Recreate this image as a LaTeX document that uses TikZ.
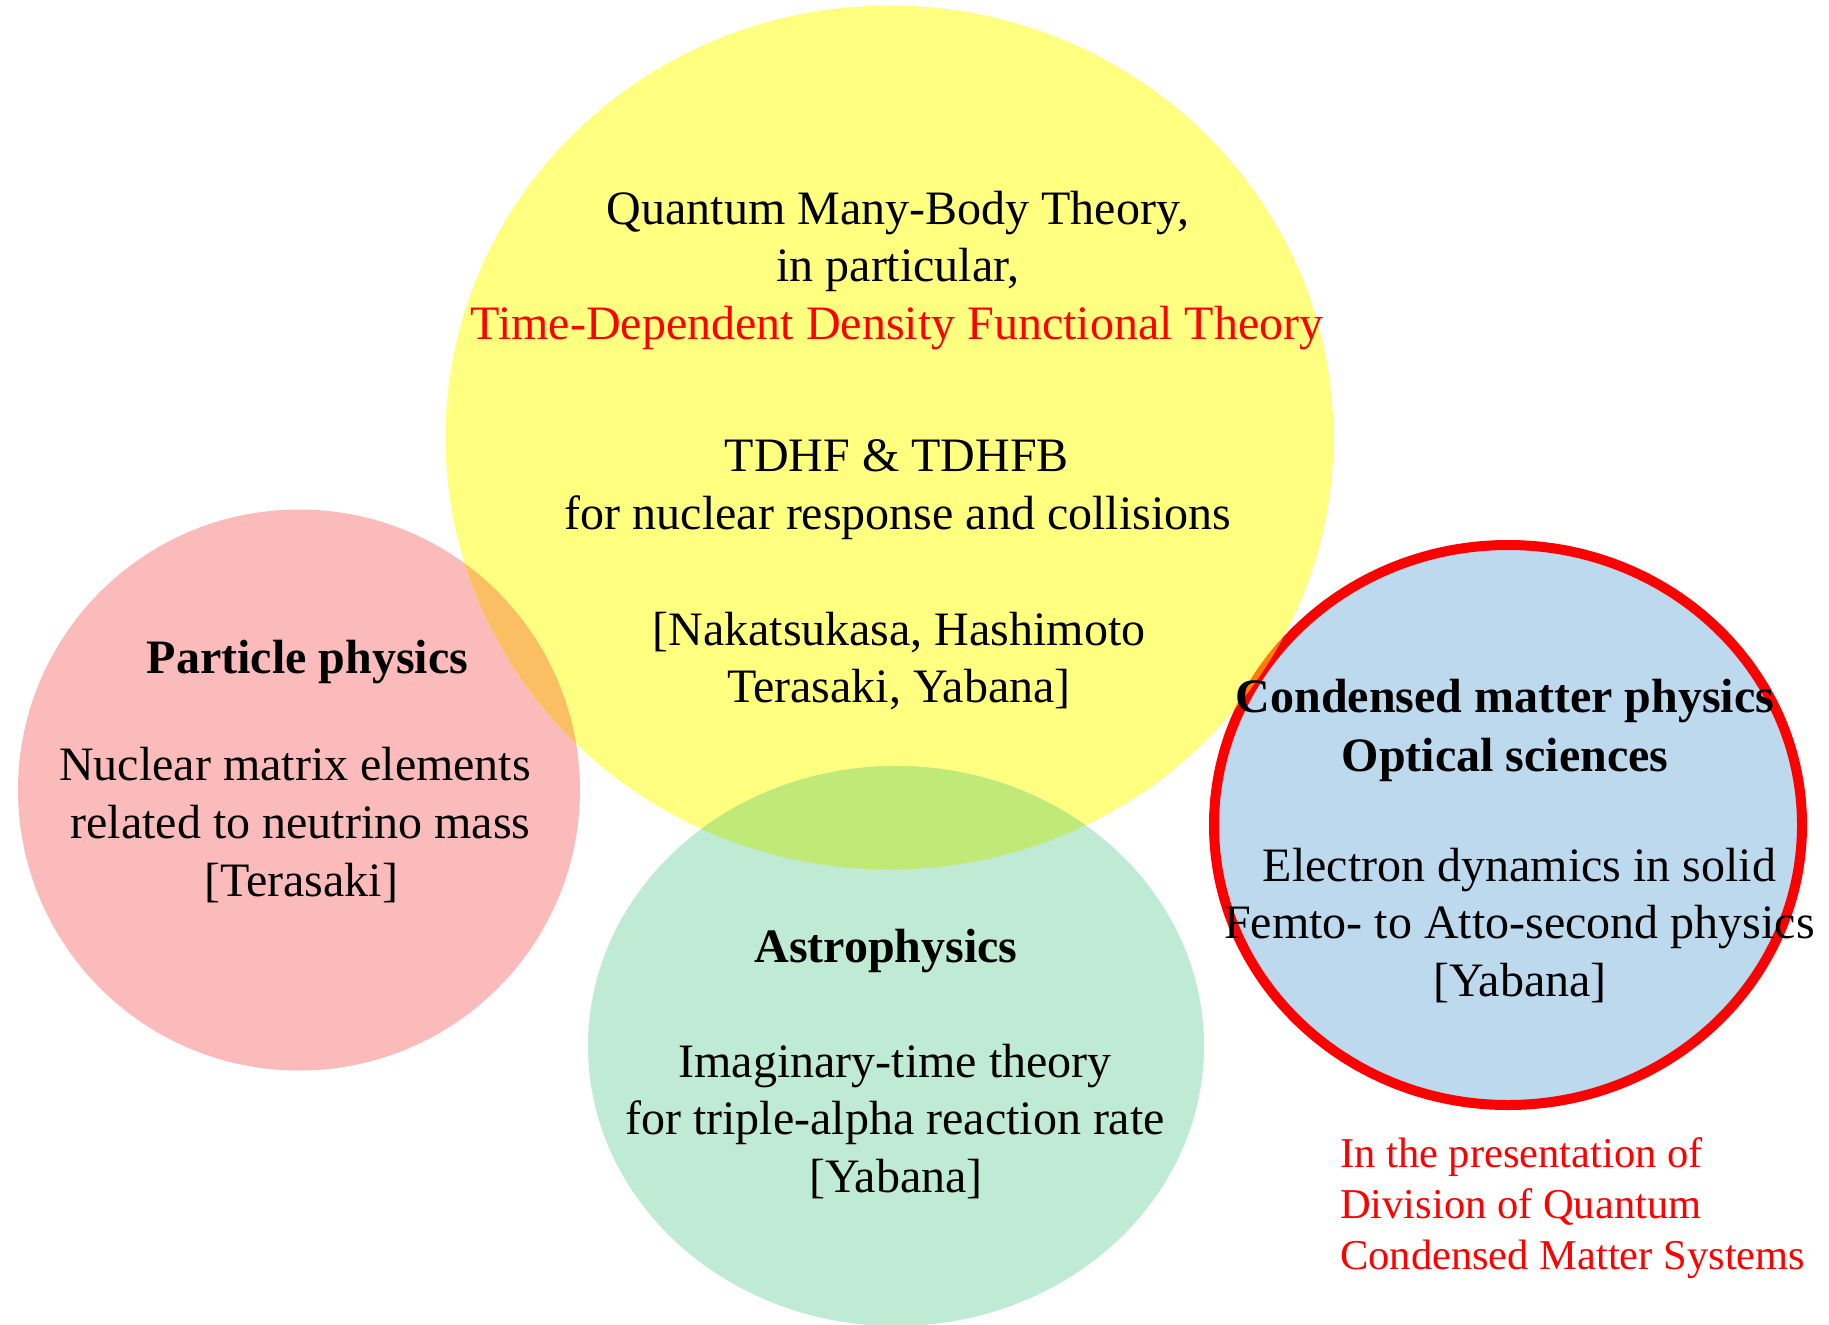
\documentclass[tikz,border=0pt]{standalone}
\usepackage{fontspec}
\setmainfont{Liberation Serif}
\definecolor{cYellow}{RGB}{255,255,128}
\definecolor{cPink}{RGB}{252,187,187}
\definecolor{cGreen}{RGB}{191,234,212}
\definecolor{cBlue}{RGB}{189,217,237}
\definecolor{cPY}{RGB}{251,190,98}
\definecolor{cGY}{RGB}{193,233,119}
\definecolor{cRY}{RGB}{255,128,0}
\definecolor{cRed}{RGB}{255,0,0}
\begin{document}
\begin{tikzpicture}[x=1pt,y=-1pt,
  txt/.style={anchor=base,inner sep=0pt,font=\fontsize{48}{58}\selectfont},
  hd/.style={anchor=base,inner sep=0pt,font=\fontsize{48}{58}\selectfont\bfseries},
  note/.style={anchor=base west,inner sep=0pt,text=cRed,font=\fontsize{42.5}{51}\selectfont}]
\useasboundingbox (0,0) rectangle (1829,1325);
% shapes
\fill[cPink] (299,790) ellipse [x radius=281, y radius=280.5];
\fill[cYellow] (889.5,437.5) ellipse [x radius=444, y radius=432];
\begin{scope}
  \clip (299,790) ellipse [x radius=281, y radius=280.5];
  \fill[cPY] (889.5,437.5) ellipse [x radius=444, y radius=432];
\end{scope}
\fill[cGreen] (896,1046) ellipse [x radius=308, y radius=280];
\begin{scope}
  \clip (896,1046) ellipse [x radius=308, y radius=280];
  \fill[cGY] (889.5,437.5) ellipse [x radius=444, y radius=432];
\end{scope}
\fill[cBlue] (1508,825) ellipse [x radius=294, y radius=280];
\draw[cRed, line width=10pt] (1508,825) ellipse [x radius=294, y radius=280];
\begin{scope}
  \clip (889.5,437.5) ellipse [x radius=444, y radius=432];
  \draw[cRY, line width=10pt] (1508,825) ellipse [x radius=294, y radius=280];
\end{scope}
% yellow texts
\node[txt] (y1) at (898,224) {Quantum Many-Body Theory,};
\node[txt] (y2) at (898,281) {in particular,};
\node[txt, text=cRed] (y3) at (897,339) {Time-Dependent Density Functional Theory};
\node[txt] (y4) at (897,471) {TDHF \& TDHFB};
\node[txt] (y5) at (898,529) {for nuclear response and collisions};
\node[txt] (y6) at (899,645) {[Nakatsukasa, Hashimoto};
\node[txt] (y7) at (899,702) {Terasaki, Yabana]};
% pink texts
\node[hd] (p1) at (307.5,673) {Particle physics};
\node[txt] (p2) at (295,780) {Nuclear matrix elements};
\node[txt] (p3) at (300.5,838) {related to neutrino mass};
\node[txt] (p4) at (301,896) {[Terasaki]};
% green texts
\node[hd] (g1) at (886,962) {Astrophysics};
\node[txt] (g2) at (895,1077) {Imaginary-time theory};
\node[txt] (g3) at (895,1134) {for triple-alpha reaction rate};
\node[txt] (g4) at (896,1192) {[Yabana]};
% blue texts
\node[hd] (b1) at (1505,712) {Condensed matter physics};
\node[hd] (b2) at (1505,771) {Optical sciences};
\node[txt] (b3) at (1519.5,881) {Electron dynamics in solid};
\node[txt] (b4) at (1519.5,938) {Femto- to Atto-second physics};
\node[txt] (b5) at (1520,996) {[Yabana]};
% note
\node[note] (n1) at (1340,1167) {In the presentation of};
\node[note] (n2) at (1340,1218) {Division of Quantum};
\node[note] (n3) at (1340,1269) {Condensed Matter Systems};
\end{tikzpicture}
\end{document}
